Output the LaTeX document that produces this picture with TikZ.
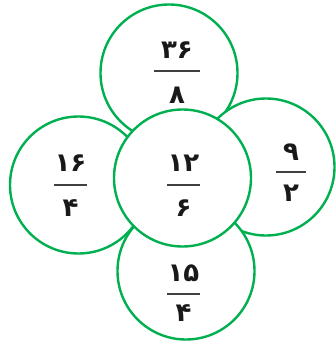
\documentclass[tikz,border=0pt]{standalone}
\usepackage{fontspec}
\newfontfamily\fa[Script=Arabic]{DejaVu Sans}
\definecolor{cgreen}{RGB}{0,176,80}
\definecolor{cbar}{RGB}{64,64,64}
\tikzset{
  circ/.style={circle, draw=cgreen, line width=2.4pt, fill=white, minimum size=137pt, inner sep=0pt},
  dig/.style={inner sep=0pt, font=\fa\bfseries\fontsize{26}{26}\selectfont, text=black!90},
  fbar/.style={draw=cbar, line width=2pt}
}
\begin{document}
\begin{tikzpicture}[x=1pt,y=-1pt]
\useasboundingbox (0,0) rectangle (335,342);
\node[circ] (ctop) at (169,73) {};
\node[circ] (cleft) at (78.5,185) {};
\node[circ] (cright) at (266,167) {};
\node[circ] (cbottom) at (186,271) {};
\node[circ] (ccenter) at (182.5,178) {};
% top
\node[dig] (tn) at (177,50) {۳۶};
\draw[fbar] (154,71) -- (200,71);
\node[dig] (td) at (177,95) {۸};
% center
\node[dig] (cn) at (183.5,163) {۱۲};
\draw[fbar] (167,185) -- (200,185);
\node[dig] (cd) at (183.5,208) {۶};
% left
\node[dig] (ln) at (70.5,163) {۱۶};
\draw[fbar] (54,185) -- (87,185);
\node[dig] (ld) at (70.5,208) {۴};
% right
\node[dig] (rn) at (291,152) {۹};
\draw[fbar] (276,172) -- (306,172);
\node[dig] (rd) at (291,193) {۲};
% bottom
\node[dig] (bn) at (183.5,273) {۱۵};
\draw[fbar] (167,294) -- (200,294);
\node[dig] (bd) at (183.5,313) {۴};
\end{tikzpicture}
\end{document}
